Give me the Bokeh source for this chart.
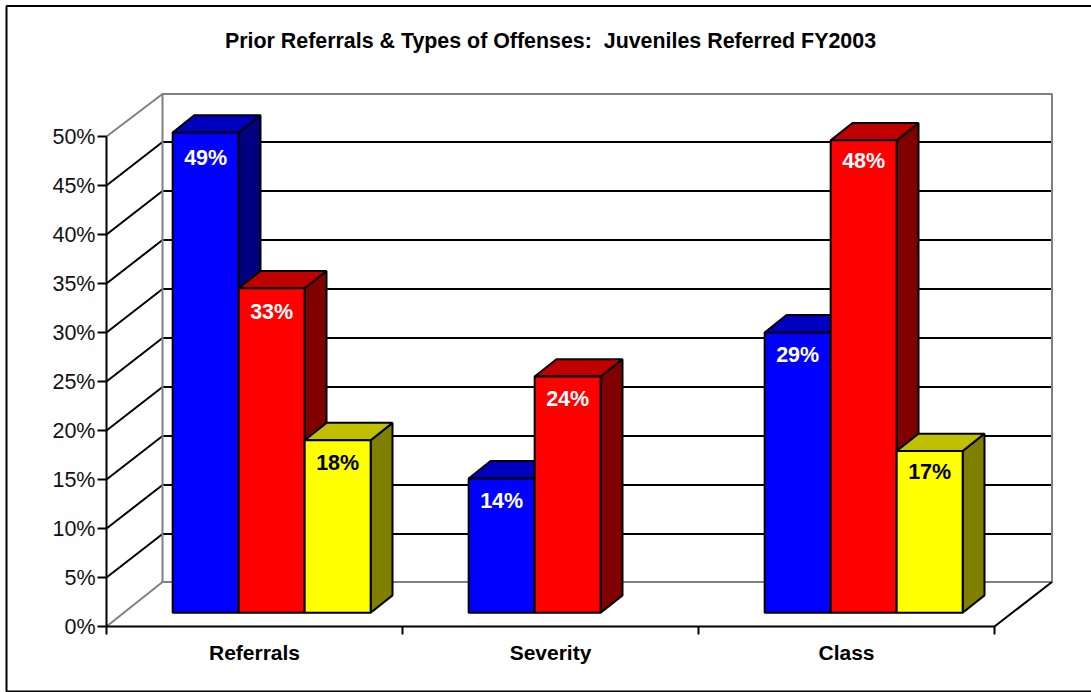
from bokeh.plotting import figure
from bokeh.embed import file_html
from bokeh.resources import INLINE
from bokeh.models import LinearAxis, FixedTicker, Range1d, Label

TITLE = "Prior Referrals & Types of Offenses: \u00a0Juveniles Referred FY2003"
categories = ["Referrals", "Severity", "Class"]
# bar heights (%), and the labels printed on them
series_a = [49.0, 13.7, 28.6]
series_b = [33.1, 24.1, 48.2]
series_c = [17.6, None, 16.5]
labels_a = ["49%", "14%", "29%"]
labels_b = ["33%", "24%", "48%"]
labels_c = ["18%", None, "17%"]
y_ticks = [0, 5, 10, 15, 20, 25, 30, 35, 40, 45, 50]

FONT = "Liberation Sans"
W, H = 1091, 692
X0, Y0 = 106, 626                # pixel position of the axes' origin
PX_X, PX_Y = 296.0, 9.8          # pixels per category / per percent
DX, DY = 56 / PX_X, 44.5 / PX_Y  # full depth of the 3D box in data units
BAR_W = 66 / PX_X
GROUP_LEFT = 48.8 / PX_X
Z0, Z1 = 0.31, 0.70              # bars' front and back depth
LW = 2
DROPS = [[25, 23, 23], [24, 22, 21], [23, None, 21]]  # label drop below the bar top, px

p = figure(width=W, height=H, output_backend="svg", toolbar_location=None,
           x_axis_type=None, y_axis_type=None,
           x_range=Range1d(-X0 / PX_X, (W - X0) / PX_X),
           y_range=Range1d(-(H - Y0) / PX_Y, Y0 / PX_Y),
           min_border=0, outline_line_color=None,
           background_fill_color="white", border_fill_color="white")
p.styles = {"position": "absolute", "left": "0px", "top": "0px"}
p.grid.visible = False


def px(x, z):
    return x + z * DX


def py(y, z):
    return y + z * DY


# chart-area border, running off the right edge of the window
bl, br, bb, bt = (6 - X0) / PX_X, (1100 - X0) / PX_X, (Y0 - 691) / PX_Y, (Y0 - 5.5) / PX_Y
p.line([br, bl, bl, br], [bt, bt, bb, bb], line_color="black", line_width=LW)

# gridlines on back and side wall
wall_right = px(3, 1) + 1.5 / PX_X
inner = y_ticks[1:-1]
gy = [py(t, 1) - 1 / PX_Y for t in inner]
p.segment([px(0, 1)] * len(gy), gy, [wall_right] * len(gy), gy, line_color="black", line_width=LW)
p.segment([px(0, 0)] * len(gy), inner, [px(0, 1)] * len(gy), gy, line_color="black", line_width=LW)

# walls
WALL = "#808080"
wall_top = py(50, 1) - 0.2
p.line([px(0, 0), px(0, 1), wall_right, wall_right, px(0, 1), px(0, 1)],
       [50, wall_top, wall_top, py(0, 1), py(0, 1), wall_top],
       line_color=WALL, line_width=2)
p.line([px(0, 0), px(0, 1)], [0, py(0, 1)], line_color=WALL, line_width=2)
p.line([px(3, 0), wall_right], [0, py(0, 1)], line_color="black", line_width=LW)

# bars
STYLES = [("#0000FF", "#0000C0", "#000080", "white"),
          ("#FF0000", "#C00000", "#800000", "white"),
          ("#FFFF00", "#C0C000", "#808000", "black")]
ALL = [(series_a, labels_a), (series_b, labels_b), (series_c, labels_c)]
for c in range(len(categories)):
    for s, (vals, labs) in enumerate(ALL):
        v = vals[c]
        if v is None:
            continue
        front, top, side, txt = STYLES[s]
        x0 = c + GROUP_LEFT + s * BAR_W
        x1 = x0 + BAR_W
        p.patch([px(x1, Z0), px(x1, Z1), px(x1, Z1), px(x1, Z0)],
                [py(0, Z0), py(0, Z1), py(v, Z1), py(v, Z0)],
                fill_color=side, line_color="black", line_width=LW)
        p.patch([px(x0, Z0), px(x0, Z1), px(x1, Z1), px(x1, Z0)],
                [py(v, Z0), py(v, Z1), py(v, Z1), py(v, Z0)],
                fill_color=top, line_color="black", line_width=LW)
        p.patch([px(x0, Z0), px(x1, Z0), px(x1, Z0), px(x0, Z0)],
                [py(0, Z0), py(0, Z0), py(v, Z0), py(v, Z0)],
                fill_color=front, line_color="black", line_width=LW)

for c in range(len(categories)):
    for s, (vals, labs) in enumerate(ALL):
        if vals[c] is None:
            continue
        xc = c + GROUP_LEFT + (s + 0.5) * BAR_W
        p.add_layout(Label(x=px(xc, Z0), y=py(vals[c], Z0), y_offset=-DROPS[s][c], text=labs[c],
                           text_align="center", text_baseline="middle",
                           text_color=STYLES[s][3], text_font=FONT,
                           text_font_style="bold", text_font_size="21.5px"))

# axes
yax = LinearAxis(ticker=FixedTicker(ticks=y_ticks), bounds=(0, 50), fixed_location=0,
                 major_label_overrides={t: f"{t}%" for t in y_ticks},
                 major_tick_in=0, major_tick_out=9, minor_tick_line_color=None,
                 major_tick_line_color="black", major_tick_line_width=LW,
                 axis_line_color="black", axis_line_width=LW, major_label_standoff=2,
                 major_label_text_font=FONT, major_label_text_font_size="21.5px",
                 major_label_text_color="#111111")
p.add_layout(yax, "left")

centers = [i + 0.5 for i in range(len(categories))]
xax = LinearAxis(ticker=FixedTicker(ticks=centers, minor_ticks=list(range(len(categories) + 1))),
                 bounds=(0, len(categories)), fixed_location=0,
                 major_label_overrides=dict(zip(centers, categories)),
                 major_tick_line_color=None, major_tick_in=0, major_tick_out=0,
                 minor_tick_in=0, minor_tick_out=8, minor_tick_line_color="black",
                 minor_tick_line_width=LW, axis_line_color="black", axis_line_width=LW,
                 major_label_standoff=6, major_label_text_font=FONT,
                 major_label_text_font_size="21px", major_label_text_font_style="bold",
                 major_label_text_color="#000000")
p.add_layout(xax, "below")

p.add_layout(Label(x=(550 - X0) / PX_X, y=(Y0 - 40) / PX_Y, text=TITLE, text_align="center",
                   text_baseline="middle", text_font=FONT, text_font_style="bold",
                   text_font_size="21.4px", text_color="#000000"))

open("out.html", "w").write(file_html(p, INLINE))
